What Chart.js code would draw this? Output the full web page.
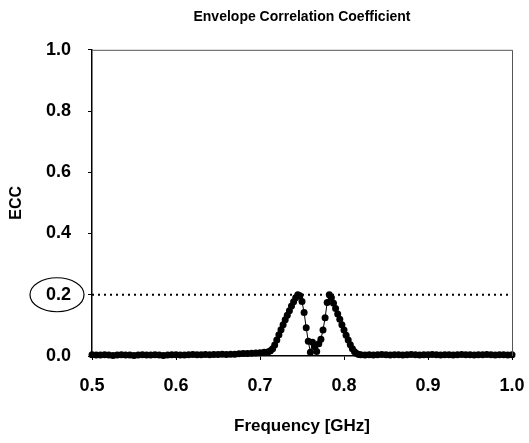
<!DOCTYPE html>
<html>
<head>
<meta charset="utf-8">
<script src="https://cdn.jsdelivr.net/npm/chart.js@4"></script>
<style>
  html, body { margin: 0; padding: 0; background: #fff; }
  #wrap { width: 529px; height: 443px; }
</style>
</head>
<body>
<div id="wrap"><canvas id="eccChart"></canvas></div>
<script>
/* Data */
const freqs = [
  0.500, 0.505, 0.510, 0.515, 0.520, 0.525, 0.530, 0.535, 0.540, 0.545,
  0.550, 0.555, 0.560, 0.565, 0.570, 0.575, 0.580, 0.585, 0.590, 0.595,
  0.600, 0.605, 0.610, 0.615, 0.620, 0.625, 0.630, 0.635, 0.640, 0.645,
  0.650, 0.655, 0.660, 0.665, 0.670, 0.675, 0.680, 0.685, 0.690, 0.695,
  0.700, 0.705, 0.710,
  0.7125, 0.715, 0.7175, 0.720, 0.7225, 0.725, 0.7275, 0.730, 0.7325, 0.735,
  0.7375, 0.740, 0.7425, 0.745, 0.7475, 0.750, 0.7525, 0.755, 0.7575, 0.760,
  0.7625, 0.765, 0.7675, 0.770, 0.7725, 0.775, 0.7775, 0.780, 0.7825, 0.785,
  0.7875, 0.790, 0.7925, 0.795, 0.7975, 0.800, 0.8025, 0.805, 0.8075, 0.810,
  0.8125, 0.815, 0.8175, 0.820,
  0.825, 0.830, 0.835, 0.840, 0.845, 0.850, 0.855, 0.860, 0.865, 0.870,
  0.875, 0.880, 0.885, 0.890, 0.895, 0.900, 0.905, 0.910, 0.915, 0.920,
  0.925, 0.930, 0.935, 0.940, 0.945, 0.950, 0.955, 0.960, 0.965, 0.970,
  0.975, 0.980, 0.985, 0.990, 0.995, 1.000
];
const eccValues = [
  0.004, 0.003, 0.003, 0.004, 0.003, 0.002, 0.003, 0.004, 0.003, 0.003,
  0.002, 0.003, 0.004, 0.003, 0.003, 0.004, 0.003, 0.002, 0.003, 0.004,
  0.004, 0.003, 0.003, 0.004, 0.005, 0.004, 0.004, 0.005, 0.004, 0.005,
  0.005, 0.006, 0.005, 0.006, 0.006, 0.007, 0.008, 0.008, 0.009, 0.010,
  0.011, 0.012, 0.014,
  0.017, 0.024, 0.036, 0.052, 0.069, 0.086, 0.102, 0.118, 0.133, 0.148,
  0.163, 0.177, 0.190, 0.200, 0.197, 0.178, 0.142, 0.092, 0.048, 0.012,
  0.045, 0.030, 0.015, 0.040, 0.055, 0.085, 0.125, 0.175, 0.200, 0.190,
  0.172, 0.155, 0.137, 0.120, 0.102, 0.085, 0.068, 0.052, 0.037, 0.024,
  0.014, 0.008, 0.005, 0.004,
  0.003, 0.004, 0.003, 0.004, 0.005, 0.004, 0.003, 0.004, 0.004, 0.003,
  0.004, 0.005, 0.004, 0.003, 0.004, 0.004, 0.005, 0.004, 0.003, 0.004,
  0.004, 0.003, 0.004, 0.005, 0.004, 0.004, 0.003, 0.004, 0.004, 0.005,
  0.004, 0.003, 0.004, 0.004, 0.003, 0.004
];
const thresholdFreqs = [0.5, 1.0];
const thresholdValues = [0.2, 0.2];
const xTicks = [0.5, 0.6, 0.7, 0.8, 0.9, 1.0];
const yTicks = [0.0, 0.2, 0.4, 0.6, 0.8, 1.0];

const fontFamily = "'Liberation Sans', Arial, sans-serif";

/* Gray frame on top and right, plus the ellipse round the 0.2 label */
const framePlugin = {
  id: "frame",
  afterDraw(chart) {
    const { ctx, chartArea, scales } = chart;
    ctx.save();
    ctx.strokeStyle = "#555";
    ctx.lineWidth = 1;
    ctx.beginPath();
    ctx.moveTo(chartArea.left, chartArea.top + 0.5);
    ctx.lineTo(chartArea.right + 0.5, chartArea.top + 0.5);
    ctx.lineTo(chartArea.right + 0.5, chartArea.bottom);
    ctx.stroke();

    const yPix = scales.y.getPixelForValue(0.2);
    ctx.strokeStyle = "#000";
    ctx.lineWidth = 1.2;
    ctx.beginPath();
    ctx.ellipse(57, yPix, 27, 17, 0, 0, Math.PI * 2);
    ctx.stroke();
    ctx.restore();
  },
};

const ctx = document.getElementById("eccChart").getContext("2d");

const config = {
  type: "line",
  data: {
    datasets: [
      {
        label: "ECC",
        data: freqs.map((f, i) => ({ x: f, y: eccValues[i] })),
        borderColor: "#000",
        borderWidth: 1,
        backgroundColor: "#000",
        pointBackgroundColor: "#000",
        pointBorderColor: "#000",
        pointRadius: 3.5,
        pointBorderWidth: 0,
        tension: 0,
        clip: false,
      },
      {
        label: "Limit",
        data: thresholdFreqs.map((f, i) => ({ x: f, y: thresholdValues[i] })),
        borderColor: "#000",
        borderWidth: 2,
        borderDash: [2, 4],
        pointRadius: 0,
        clip: false,
      },
    ],
  },
  options: {
    responsive: true,
    maintainAspectRatio: false,
    animation: false,
    layout: {
      padding: { left: 0, right: 17, top: 0, bottom: 0 },
    },
    plugins: {
      legend: { display: false },
      tooltip: { enabled: false },
      title: {
        display: true,
        fullSize: false,
        text: "Envelope Correlation Coefficient",
        color: "#000",
        font: { family: fontFamily, size: 14, weight: "bold" },
        padding: { top: 9, bottom: 24 },
      },
    },
    scales: {
      x: {
        type: "linear",
        min: 0.5,
        max: 1.0,
        afterBuildTicks: (scale) => {
          scale.ticks = xTicks.map((v) => ({ value: v }));
        },
        afterFit: (scale) => {
          scale.height = 87;
          scale.paddingLeft = 0;
          scale.paddingRight = 0;
        },
        ticks: {
          color: "#000",
          font: { family: fontFamily, size: 18, weight: "bold" },
          padding: 15,
          maxRotation: 0,
          autoSkip: false,
          callback: (v) => v.toFixed(1),
        },
        grid: {
          display: true,
          drawOnChartArea: false,
          drawTicks: true,
          tickLength: 4,
          color: "#000",
        },
        border: { color: "#000", width: 1.5 },
        title: {
          display: true,
          text: "Frequency [GHz]",
          color: "#000",
          font: { family: fontFamily, size: 17, weight: "bold" },
          padding: { top: 0, bottom: 6 },
        },
      },
      y: {
        min: 0,
        max: 1.0,
        afterBuildTicks: (scale) => {
          scale.ticks = yTicks.map((v) => ({ value: v }));
        },
        afterFit: (scale) => {
          scale.width = 92;
        },
        ticks: {
          color: "#000",
          font: { family: fontFamily, size: 18, weight: "bold" },
          padding: 17,
          callback: (v) => v.toFixed(1),
        },
        grid: {
          display: true,
          drawOnChartArea: false,
          drawTicks: true,
          tickLength: 4,
          color: "#000",
        },
        border: { color: "#000", width: 1.5 },
        title: {
          display: true,
          text: "ECC",
          color: "#000",
          font: { family: fontFamily, size: 16, weight: "bold" },
          padding: { top: 7, bottom: 0 },
        },
      },
    },
  },
  plugins: [framePlugin],
};

const eccChart = new Chart(ctx, config);
</script>
</body>
</html>
